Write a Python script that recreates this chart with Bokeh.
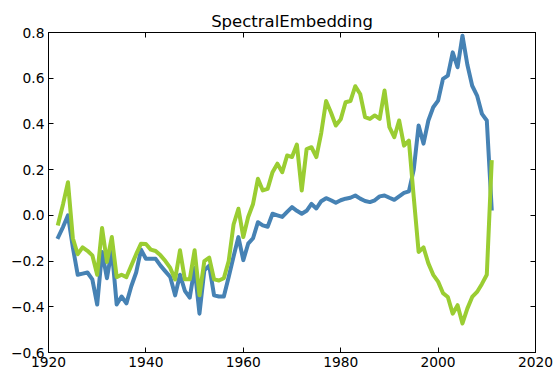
from bokeh.plotting import figure
from bokeh.models import LinearAxis, FixedTicker, CustomLabelingPolicy
from bokeh.embed import file_html
from bokeh.resources import INLINE

# Yearly embedding coordinates, 1922-2011
years = list(range(1922, 2012))

component_a = [
    -0.095, -0.05, 0.0, -0.14, -0.26, -0.255, -0.25, -0.28, -0.39, -0.16,
    -0.275, -0.15, -0.39, -0.355, -0.385, -0.31, -0.25, -0.15, -0.19, -0.19,
    -0.19, -0.22, -0.245, -0.27, -0.35, -0.26, -0.33, -0.36, -0.23, -0.43,
    -0.24, -0.22, -0.35, -0.355, -0.355, -0.27, -0.18, -0.095, -0.196, -0.124,
    -0.10, -0.03, -0.044, -0.05, 0.007, 0.0, -0.007, 0.015, 0.036, 0.02,
    0.007, 0.02, 0.05, 0.03, 0.062, 0.075, 0.066, 0.055, 0.066, 0.073,
    0.077, 0.087, 0.073, 0.063, 0.058, 0.066, 0.083, 0.087, 0.077, 0.068,
    0.083, 0.098, 0.105, 0.2, 0.393, 0.314, 0.415, 0.473, 0.502, 0.597,
    0.611, 0.713, 0.648, 0.786, 0.66, 0.567, 0.524, 0.444, 0.415, 0.03,
]

component_b = [
    -0.036, 0.05, 0.145, -0.10, -0.17, -0.14, -0.155, -0.175, -0.26, -0.055,
    -0.204, -0.095, -0.27, -0.26, -0.27, -0.22, -0.17, -0.124, -0.125, -0.15,
    -0.156, -0.175, -0.20, -0.23, -0.28, -0.153, -0.28, -0.28, -0.153, -0.35,
    -0.20, -0.185, -0.28, -0.285, -0.275, -0.20, -0.04, 0.029, -0.095, -0.007,
    0.05, 0.16, 0.109, 0.116, 0.189, 0.226, 0.189, 0.262, 0.255, 0.31,
    0.109, 0.29, 0.298, 0.255, 0.36, 0.50, 0.45, 0.393, 0.42, 0.495,
    0.50, 0.565, 0.531, 0.43, 0.422, 0.437, 0.422, 0.546, 0.386, 0.342,
    0.415, 0.305, 0.327, 0.08, -0.16, -0.14, -0.21, -0.26, -0.29, -0.34,
    -0.357, -0.43, -0.393, -0.473, -0.408, -0.357, -0.335, -0.30, -0.26, 0.233,
]

x_ticks = [1920, 1940, 1960, 1980, 2000, 2020]
y_ticks = [-0.6, -0.4, -0.2, 0.0, 0.2, 0.4, 0.6, 0.8]
y_tick_labels = ["\u22120.6", "\u22120.4", "\u22120.2", "0.0", "0.2", "0.4", "0.6", "0.8"]

FONT = "DejaVu Sans"

p = figure(
    width=553, height=373,
    x_range=(1920, 2020), y_range=(-0.6, 0.8),
    min_border_left=48, min_border_right=18,
    min_border_top=32, min_border_bottom=21,
    toolbar_location=None, output_backend="svg",
    x_axis_location=None, y_axis_location=None,
    title="SpectralEmbedding",
)
p.title.align = "center"
p.title.text_font = FONT
p.title.text_font_size = "16.5px"
p.title.text_font_style = "normal"
p.title.text_color = "black"
p.title.standoff = 4
p.title.offset = 0

p.grid.visible = False
p.outline_line_color = "black"
p.outline_line_width = 1
p.background_fill_color = "white"
p.border_fill_color = "white"

xticker = FixedTicker(ticks=x_ticks)
yticker = FixedTicker(ticks=y_ticks)

# mirrored axes on top/right carry ticks only
hide_all = CustomLabelingPolicy(code="for (const i of indices) indices.unset(i)")


def make_axis(ticker, labelled, overrides=None):
    ax = LinearAxis(ticker=ticker)
    ax.axis_line_color = "black"
    ax.major_tick_line_color = "black"
    ax.major_tick_in = 5
    ax.major_tick_out = 0
    ax.minor_tick_line_color = None
    ax.major_label_text_font = FONT
    ax.major_label_text_color = "black"
    if labelled:
        ax.major_label_text_font_size = "13.8px"
        ax.major_label_standoff = 4
        if overrides:
            ax.major_label_overrides = overrides
    else:
        ax.major_label_text_font_size = "0px"
        ax.major_label_standoff = 0
        ax.major_label_policy = hide_all
    return ax


p.add_layout(make_axis(xticker, True), "below")
p.add_layout(make_axis(yticker, True, dict(zip(y_ticks, y_tick_labels))), "left")
p.add_layout(make_axis(xticker, False), "above")
p.add_layout(make_axis(yticker, False), "right")

p.line(years, component_a, line_color="#4682B4", line_width=4,
       line_join="round", line_cap="square")
p.line(years, component_b, line_color="#9ACD32", line_width=4,
       line_join="round", line_cap="square")

open("out.html", "w").write(file_html(p, INLINE))
